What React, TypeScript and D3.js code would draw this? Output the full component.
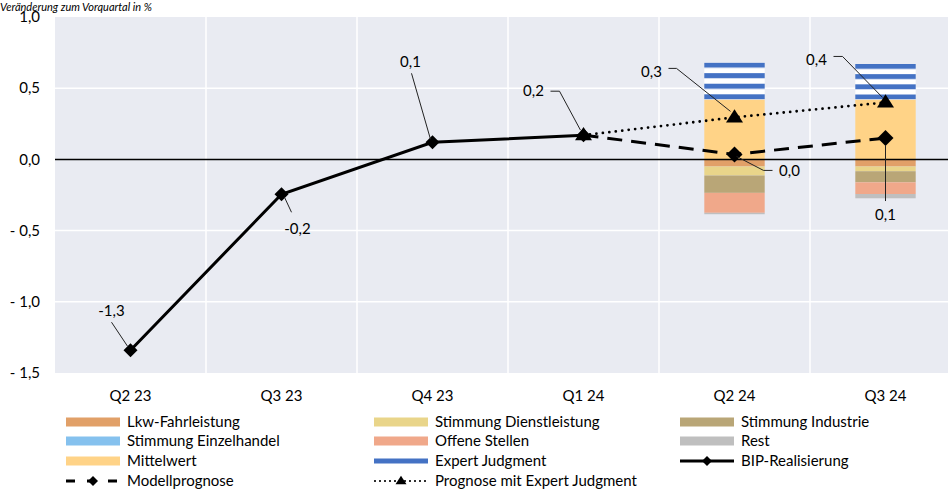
import React from "react";
import * as d3 from "d3";

const categories = ["Q2 23", "Q3 23", "Q4 23", "Q1 24", "Q2 24", "Q3 24"];
const bipRealisierung: (number | null)[] = [-1.34, -0.245, 0.12, 0.17, null, null];
const modellprognose: (number | null)[] = [null, null, null, 0.17, 0.035, 0.15];
const prognoseExpert: (number | null)[] = [null, null, null, 0.17, 0.295, 0.4];

const lkw = [0, 0, 0, 0, -0.05, -0.05];
const dienstleistung = [0, 0, 0, 0, -0.063, -0.033];
const industrie = [0, 0, 0, 0, -0.122, -0.078];
const einzelhandel = [0, 0, 0, 0, 0, 0];
const offeneStellen = [0, 0, 0, 0, -0.14, -0.082];
const rest = [0, 0, 0, 0, -0.01, -0.03];
const mittelwert = [0, 0, 0, 0, 0.42, 0.42];
const expertJudgment = [0, 0, 0, 0, 0.26, 0.25];

const yTicks = [1.0, 0.5, 0.0, -0.5, -1.0, -1.5];
const yTickLabels = ["1,0", "0,5", "0,0", "- 0,5", "- 1,0", "- 1,5"];

const bipLabels = ["-1,3", "-0,2", "0,1", "0,2"];
const modellLabels = ["", "", "", "", "0,0", "0,1"];
const expertLabels = ["", "", "", "", "0,3", "0,4"];

const title = "Veränderung zum Vorquartal in %";

const seriesKeys = ["lkw", "dienst", "industrie", "einzel", "offene", "rest", "mittel", "expert"];
const seriesNames = [
  "Lkw-Fahrleistung",
  "Stimmung Dienstleistung",
  "Stimmung Industrie",
  "Stimmung Einzelhandel",
  "Offene Stellen",
  "Rest",
  "Mittelwert",
  "Expert Judgment",
];
const seriesColors = ["#E1A068", "#E9D58A", "#B9A677", "#85C1EE", "#F0A88A", "#BFBFBF", "#FFD387", "#4472C4"];
const seriesValues = [lkw, dienstleistung, industrie, einzelhandel, offeneStellen, rest, mittelwert, expertJudgment];

const W = 948;
const H = 492;
const FONT = "Lato, 'Open Sans', sans-serif";

export default function App() {
  const x = d3.scaleBand<string>().domain(categories).range([55, 961]).padding(0);
  const y = d3.scaleLinear().domain([-1.5, 1.0]).range([373, 17]);
  const cx = (i: number) => (x(categories[i]) as number) + x.bandwidth() / 2;
  const barW = x.bandwidth() * 0.4;

  const table = categories.map((c, i) => {
    const row: any = { cat: c };
    seriesKeys.forEach((k, j) => (row[k] = seriesValues[j][i]));
    return row;
  });
  const stack = d3.stack<any>().keys(seriesKeys).offset(d3.stackOffsetDiverging);
  const stacked = stack(table);

  const lineGen = d3
    .line<[number, number | null]>()
    .defined((d) => d[1] !== null)
    .x((d) => cx(d[0]))
    .y((d) => y(d[1] as number));

  const toPts = (arr: (number | null)[]) => arr.map((v, i) => [i, v] as [number, number | null]);

  const diamond = (px: number, py: number, r: number) =>
    `M${px},${py - r}L${px + r},${py}L${px},${py + r}L${px - r},${py}Z`;
  const triangle = (px: number, py: number, s: number) =>
    `M${px},${py - s * 0.95}L${px + s},${py + s * 0.6}L${px - s},${py + s * 0.6}Z`;

  const annotations: { arr: (number | null)[]; i: number; text: string; t: [number, number]; pts: [number, number][] }[] = [
    { arr: bipRealisierung, i: 0, text: bipLabels[0], t: [-19, -39], pts: [[-19, -28], [-3, -4]] },
    { arr: bipRealisierung, i: 1, text: bipLabels[1], t: [16, 34], pts: [[3, 3], [10, 18]] },
    { arr: bipRealisierung, i: 2, text: bipLabels[2], t: [-22, -81], pts: [[-21, -69], [-2, -3]] },
    { arr: bipRealisierung, i: 3, text: bipLabels[3], t: [-50, -44], pts: [[-33, -44], [-24, -44], [-3, -5]] },
    { arr: prognoseExpert, i: 4, text: expertLabels[4], t: [-83, -46], pts: [[-66, -49], [-58, -49], [-4, -6]] },
    { arr: modellprognose, i: 4, text: modellLabels[4], t: [55, 16], pts: [[2, 2], [29, 16], [38, 16]] },
    { arr: prognoseExpert, i: 5, text: expertLabels[5], t: [-69, -43], pts: [[-52, -46], [-43, -46], [-3, -5]] },
    { arr: modellprognose, i: 5, text: modellLabels[5], t: [0, 77], pts: [[0, 7], [0, 63]] },
  ];

  const expertIdx = seriesKeys.indexOf("expert");

  const legendCols = [66, 374, 680];
  const legendRows = [422, 441, 461, 481];
  const legendItems: { kind: string; idx?: number; label: string }[] = [
    { kind: "bar", idx: 0, label: seriesNames[0] },
    { kind: "bar", idx: 1, label: seriesNames[1] },
    { kind: "bar", idx: 2, label: seriesNames[2] },
    { kind: "bar", idx: 3, label: seriesNames[3] },
    { kind: "bar", idx: 4, label: seriesNames[4] },
    { kind: "bar", idx: 5, label: seriesNames[5] },
    { kind: "bar", idx: 6, label: seriesNames[6] },
    { kind: "thin", idx: 7, label: seriesNames[7] },
    { kind: "bip", label: "BIP-Realisierung" },
    { kind: "modell", label: "Modellprognose" },
    { kind: "expertline", label: "Prognose mit Expert Judgment" },
  ];

  return (
    <svg width={W} height={H} style={{ position: "absolute", left: 0, top: 0, background: "#fff" }} fontFamily={FONT}>
      <defs>
        {stacked[expertIdx].map((d, i) => {
          const top = y(d[1]);
          const h = y(d[0]) - y(d[1]);
          if (h <= 0) return null;
          const period = h / 3.5;
          return (
            <pattern key={i} id={`stripe${i}`} patternUnits="userSpaceOnUse" x={0} y={top} width={10} height={period}>
              <rect x={0} y={0} width={10} height={period / 2} fill="#4472C4" />
              <rect x={0} y={period / 2} width={10} height={period / 2} fill="#FFFFFF" />
            </pattern>
          );
        })}
      </defs>
      <text x={0} y={11} fontSize={11} fontStyle="italic" fill="#000">
        {title}
      </text>
      <rect x={55} y={y(1)} width={961 - 55} height={y(-1.5) - y(1)} fill="#E9EBF2" />
      {yTicks
        .filter((t) => t !== 0 && t !== 1 && t !== -1.5)
        .map((t) => (
          <line key={t} x1={55} x2={961} y1={y(t)} y2={y(t)} stroke="#fff" strokeWidth={1.5} />
        ))}
      {categories.slice(1).map((c) => (
        <line key={c} x1={x(c)} x2={x(c)} y1={y(1)} y2={y(-1.5)} stroke="#fff" strokeWidth={1.5} />
      ))}
      {stacked.map((s, si) =>
        s.map((d, i) => {
          const h = Math.abs(y(d[0]) - y(d[1]));
          if (h <= 0.01) return null;
          return (
            <rect
              key={`${si}-${i}`}
              x={cx(i) - barW / 2}
              y={Math.min(y(d[0]), y(d[1]))}
              width={barW}
              height={h}
              fill={si === expertIdx ? `url(#stripe${i})` : seriesColors[si]}
            />
          );
        })
      )}
      <line x1={55} x2={961} y1={y(0)} y2={y(0)} stroke="#000" strokeWidth={1.5} />
      <path d={lineGen(toPts(bipRealisierung)) || ""} fill="none" stroke="#000" strokeWidth={3} />
      <path d={lineGen(toPts(modellprognose)) || ""} fill="none" stroke="#000" strokeWidth={3} strokeDasharray="15 9" />
      <path
        d={lineGen(toPts(prognoseExpert)) || ""}
        fill="none"
        stroke="#000"
        strokeWidth={2.8}
        strokeDasharray="0 6.5"
        strokeLinecap="round"
      />
      {bipRealisierung.map((v, i) => (v === null ? null : <path key={`b${i}`} d={diamond(cx(i), y(v), 7)} fill="#000" />))}
      {modellprognose.map((v, i) =>
        v === null || i === 3 ? null : <path key={`m${i}`} d={diamond(cx(i), y(v), 8)} fill="#000" />
      )}
      {prognoseExpert.map((v, i) => (v === null ? null : <path key={`e${i}`} d={triangle(cx(i), y(v), 8.5)} fill="#000" />))}
      {annotations.map((a, k) => {
        const px = cx(a.i);
        const py = y(a.arr[a.i] as number);
        return (
          <g key={`a${k}`}>
            <polyline
              points={a.pts.map((p) => `${px + p[0]},${py + p[1]}`).join(" ")}
              fill="none"
              stroke="#222"
              strokeWidth={1}
            />
            <text x={px + a.t[0]} y={py + a.t[1]} dy="0.35em" textAnchor="middle" fontSize={15} fill="#000">
              {a.text}
            </text>
          </g>
        );
      })}
      {yTicks.map((t, i) => (
        <text key={`yt${i}`} x={40} y={y(t)} dy="0.35em" textAnchor="end" fontSize={15} fill="#000">
          {yTickLabels[i]}
        </text>
      ))}
      {categories.map((c, i) => (
        <text key={`xt${i}`} x={cx(i)} y={396} dy="0.35em" textAnchor="middle" fontSize={15} fill="#000">
          {c}
        </text>
      ))}
      {legendItems.map((it, k) => {
        const col = k % 3;
        const row = Math.floor(k / 3);
        const lx = legendCols[col];
        const ly = legendRows[row];
        let sym: React.ReactNode = null;
        if (it.kind === "bar") {
          sym = <rect x={lx} y={ly - 4.5} width={54} height={9} fill={seriesColors[it.idx as number]} />;
        } else if (it.kind === "thin") {
          sym = <rect x={lx} y={ly - 2.5} width={54} height={5} fill={seriesColors[it.idx as number]} />;
        } else if (it.kind === "bip") {
          sym = (
            <g>
              <line x1={lx} x2={lx + 54} y1={ly} y2={ly} stroke="#000" strokeWidth={3} />
              <path d={diamond(lx + 27, ly, 5)} fill="#000" />
            </g>
          );
        } else if (it.kind === "modell") {
          sym = (
            <g>
              <line x1={lx} x2={lx + 54} y1={ly} y2={ly} stroke="#000" strokeWidth={3} strokeDasharray="9 12" />
              <path d={diamond(lx + 27, ly, 5)} fill="#000" />
            </g>
          );
        } else {
          sym = (
            <g>
              <line
                x1={lx + 1}
                x2={lx + 54}
                y1={ly}
                y2={ly}
                stroke="#000"
                strokeWidth={2.2}
                strokeDasharray="0 5"
                strokeLinecap="round"
              />
              <path d={triangle(lx + 27, ly, 5.5)} fill="#000" />
            </g>
          );
        }
        return (
          <g key={`l${k}`}>
            {sym}
            <text x={lx + 61} y={ly} dy="0.35em" fontSize={15} fill="#000">
              {it.label}
            </text>
          </g>
        );
      })}
    </svg>
  );
}
